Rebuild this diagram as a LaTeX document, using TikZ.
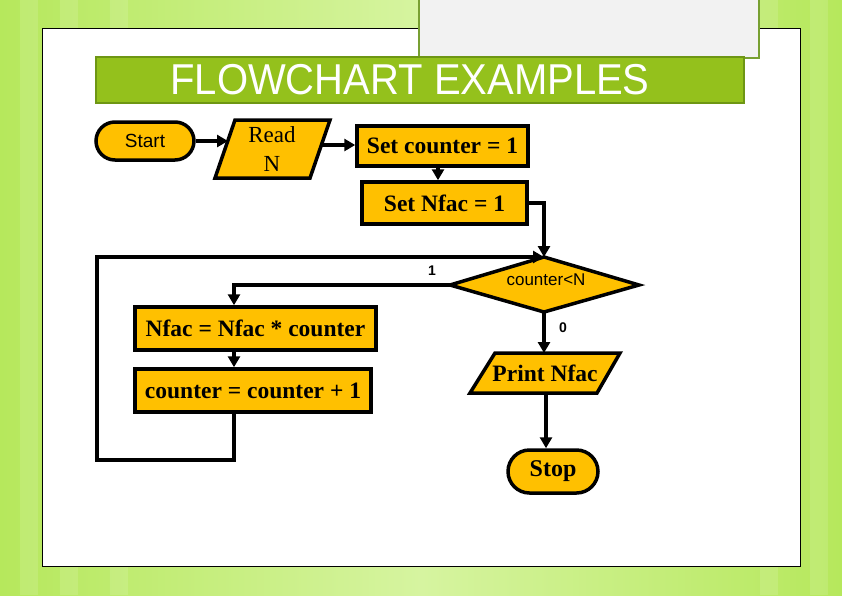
\documentclass[tikz,border=0pt]{standalone}
\usepackage{fontspec}
\setmainfont{Liberation Serif}
\setsansfont{Liberation Sans}
\usetikzlibrary{arrows.meta,shapes.misc}
\definecolor{fcyellow}{RGB}{255,192,0}
\definecolor{titlegreen}{RGB}{148,193,28}
\definecolor{titleedge}{RGB}{110,150,20}
\definecolor{bgedge}{RGB}{182,232,92}
\definecolor{bgmid}{RGB}{214,244,160}
\definecolor{boxedge}{RGB}{120,160,50}
\tikzset{
  fcline/.style={line width=3.5pt, draw=black},
  arr/.style={fcline, -{Triangle[length=11pt,width=12pt]}},
  procbox/.style={rectangle, fcline, fill=fcyellow, inner sep=0pt, text=black, font=\bfseries\fontsize{23.5}{25}\selectfont},
  termbox/.style={rounded rectangle, fcline, fill=fcyellow, inner sep=0pt, text=black},
  shapefill/.style={fcline, fill=fcyellow, line join=miter},
  lbl/.style={text=black, font=\sffamily\bfseries\fontsize{14}{16}\selectfont}
}
\begin{document}
\begin{tikzpicture}[x=1pt,y=-1pt]
\useasboundingbox (0,0) rectangle (842,595);
% background
\shade[left color=bgedge, right color=bgedge, middle color=bgmid] (0,0) rectangle (842,595);
\foreach \sx in {20,60,110,760,810} {\fill[white, opacity=0.12] (\sx,0) rectangle ++(18,595);}
% slide panel
\draw[black, line width=1pt, fill=white] (42,28) rectangle (800,566);
\draw[boxedge, line width=1.5pt, fill=black!5] (419,-5) rectangle (759,58);
% title
\draw[titleedge, line width=1.5pt, fill=titlegreen] (96,57) rectangle (744,103);
\node[white, font=\sffamily\fontsize{40}{40}\selectfont, yscale=1.08] (title) at (410,80) {FLOWCHART EXAMPLES};

% nodes
\node[termbox, minimum width=98pt, minimum height=38pt, font=\sffamily\fontsize{19}{20}\selectfont] (start) at (145,141) {Start};

\coordinate (r1) at (235,120); \coordinate (r2) at (330,120);
\coordinate (r3) at (310,178); \coordinate (r4) at (215,178);
\filldraw[shapefill] (r1) -- (r2) -- (r3) -- (r4) -- cycle;
\node[align=center, text=black, font=\fontsize{23}{29}\selectfont] (read) at (272,149) {Read\\N};

\node[procbox, minimum width=171pt, minimum height=40pt] (setc) at (442.5,146) {Set counter = 1};
\node[procbox, minimum width=165pt, minimum height=42pt] (setn) at (444.5,203) {Set Nfac = 1};

\coordinate (dt) at (544,257); \coordinate (dr) at (639,285);
\coordinate (db) at (544,312); \coordinate (dl) at (450,285);
\filldraw[shapefill] (dt) -- (dr) -- (db) -- (dl) -- cycle;
\node[text=black, font=\sffamily\fontsize{17}{18}\selectfont] (dec) at (546,280) {counter<N};

\node[procbox, minimum width=241pt, minimum height=43pt] (nfac) at (255.5,328.5) {Nfac = Nfac * counter};
\node[procbox, minimum width=236pt, minimum height=43pt] (cnt) at (253,390.5) {counter = counter + 1};

\coordinate (p1) at (495,353); \coordinate (p2) at (620,353);
\coordinate (p3) at (597,393); \coordinate (p4) at (470,393);
\filldraw[shapefill] (p1) -- (p2) -- (p3) -- (p4) -- cycle;
\node[text=black, font=\bfseries\fontsize{23.5}{25}\selectfont] (prt) at (545,373) {Print Nfac};

\node[termbox, minimum width=90pt, minimum height=43pt, font=\bfseries\fontsize{24}{25}\selectfont] (stop) at (553,471.5) {Stop};

% helper coordinates
\coordinate (rl) at (228,141);
\coordinate (rr) at (321,145);
\coordinate (lx) at (234,460);
\coordinate (lt) at (97,257);
\coordinate (pb) at (546,393);

% connectors
\draw[arr] (start.east) -- (rl);
\draw[arr] (rr) -- (rr -| setc.west);
\draw[arr] ([xshift=-4.5pt]setc.south) -- ([xshift=-4.5pt]setc.south |- setn.north);
\draw[arr] (setn.east) -| (dt);
\draw[arr] (dl) -| (lx |- nfac.north);
\draw[arr] (lx |- nfac.south) -- (lx |- cnt.north);
\draw[arr, line join=miter] (lx |- cnt.south) -- (lx) -| (lt) -- (dt);
\draw[arr] (db) -- (db |- p1);
\draw[arr] (pb) -- (pb |- stop.north);

% labels
\node[lbl] (one) at (432,271) {1};
\node[lbl] (zero) at (563,328) {0};
\end{tikzpicture}
\end{document}
